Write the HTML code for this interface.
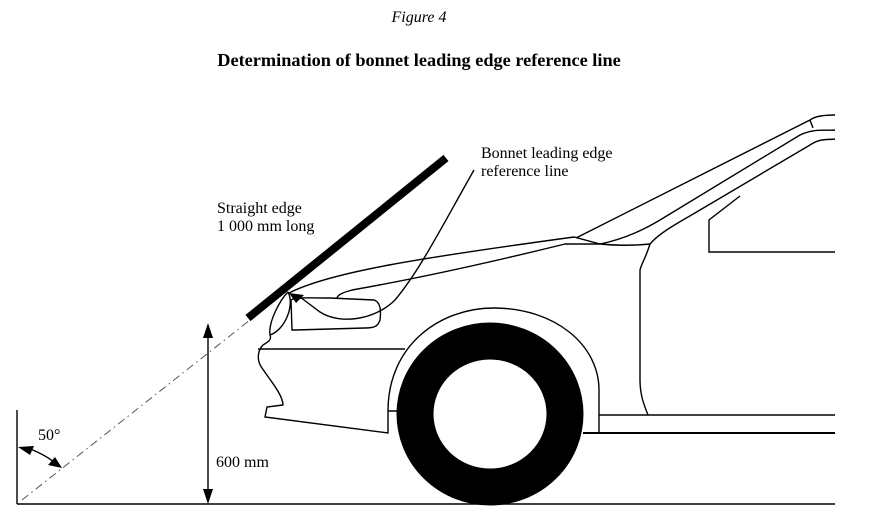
<!DOCTYPE html>
<html><head><style>
html,body{margin:0;padding:0;background:#fff;}
svg{display:block;}
text{font-family:"Liberation Serif",serif;fill:#000;}
</style></head><body>
<svg width="875" height="523" viewBox="0 0 875 523" xmlns="http://www.w3.org/2000/svg">
<text x="419" y="22" font-size="16" font-style="italic" text-anchor="middle">Figure 4</text>
<text x="419" y="66" font-size="18.3" font-weight="bold" text-anchor="middle">Determination of bonnet leading edge reference line</text>

<g fill="none" stroke="#000" stroke-width="1.4">
<line x1="17" y1="504" x2="835" y2="504" stroke-width="1.6"/>
<line x1="17" y1="410" x2="17" y2="504"/>
<line x1="22" y1="500" x2="250" y2="320" stroke="#555" stroke-width="1" stroke-dasharray="8,4,1.5,4"/>
<line x1="208" y1="335" x2="208" y2="492"/>
<path d="M28,448 Q48,456 56,464"/>
<path d="M474,170 C440,230 420,270 395,300 C375,320 340,325 320,312 L300,297"/>
<path d="M289,293 C330,272 420,258 574,237 L600,244 C620,246 640,245 650,244"/>
<path d="M337,298 C338,294 345,292 352,290 C420,278 500,260 565,244 L600,244"/>
<path d="M292,330 L291,300 C295,297 310,298 330,298 L374,300 C381,302 381,312 380,320 C378,326 375,328 365,328 L295,330 Z"/>
<path d="M288,292 C280,300 268,322 270,335 C272,340 268,342 263,345 C258,350 256,360 262,368 C270,380 283,395 283,405 L267,407 L265,417 L388,433 L388,411 L397,411"/>
<path d="M288,292 C295,305 285,330 270,335"/>
<line x1="258" y1="349" x2="405" y2="349"/>
<path d="M388,411 C388,345 440,308 494,308 C555,308 599,345 599,390 L599,433"/>
<line x1="599" y1="415" x2="835" y2="415"/>
<line x1="583" y1="433" x2="835" y2="433" stroke-width="2"/>
<path d="M650,244 C645,260 642,262 640,270 L640,380 C640,395 644,405 648,415"/>
<path d="M835,252 L709,252 L709,220 L740,196"/>
<path d="M576,238 L810,120 C815,116 825,115 835,115"/>
<path d="M810,120 L813,128"/>
<path d="M600,244 C620,240 640,232 660,220 L800,135 C815,128 825,131 835,130"/>
<path d="M650,244 C660,232 680,222 700,210 L810,145 C820,138 828,140 835,139"/>
</g>
<polygon points="208,323 203,338 213,338" fill="#000"/>
<polygon points="208,504 203,489 213,489" fill="#000"/>
<polygon points="18,447 34,446 30,455" fill="#000"/>
<polygon points="62,468 48,465 55,457" fill="#000"/>
<polygon points="289,293 304,295 296,303" fill="#000"/>
<line x1="248" y1="318" x2="446" y2="158" stroke="#000" stroke-width="8"/>
<ellipse cx="490" cy="414" rx="75" ry="73" fill="none" stroke="#000" stroke-width="37"/>

<text x="217" y="213" font-size="16">Straight edge</text>
<text x="217" y="231" font-size="16">1 000 mm long</text>
<text x="481" y="158" font-size="16">Bonnet leading edge</text>
<text x="481" y="176" font-size="16">reference line</text>
<text x="38" y="440" font-size="16">50°</text>
<text x="216" y="467" font-size="16">600 mm</text>
</svg>
</body></html>
